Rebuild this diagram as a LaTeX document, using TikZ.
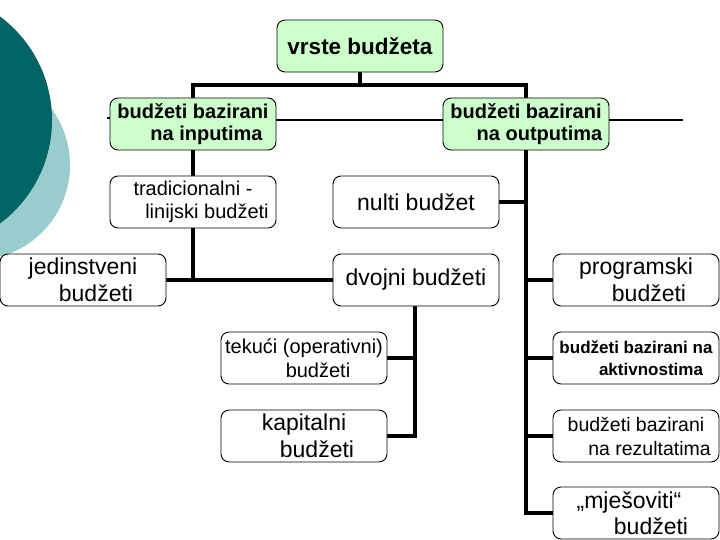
\documentclass[tikz,border=0pt]{standalone}
\usepackage{fontspec}
\setmainfont{Liberation Sans}
\definecolor{boxgreen}{RGB}{204,255,204}
\definecolor{darkteal}{RGB}{0,100,100}
\definecolor{lightteal}{RGB}{153,204,204}
\pgfdeclarelayer{bg}
\pgfdeclarelayer{lines}
\pgfsetlayers{bg,lines,main}
\begin{document}
\begin{tikzpicture}[x=1pt,y=-1pt,
  box/.style={draw=black, line width=0.9pt, rounded corners=8pt, minimum width=166pt,
    minimum height=52pt, inner sep=0pt, align=center, fill=white},
  gbox/.style={box, fill=boxgreen},
  fbold/.style={font=\fontsize{20}{22}\selectfont\bfseries},
  fbig/.style={font=\fontsize{23}{26.5}\selectfont},
  fmid/.style={font=\fontsize{20}{23.5}\selectfont},
  conn/.style={line width=3.2pt, line join=miter},
  thinconn/.style={line width=2.6pt}]
\useasboundingbox (0,0) rectangle (720,540);
% background circles
\begin{pgfonlayer}{bg}
  \clip (0,0) rectangle (720,540);
  \fill[lightteal] (-25,165) circle [radius=95pt];
  \fill[darkteal] (-77,120) circle [radius=129pt];
\end{pgfonlayer}
% nodes
\node[gbox, font=\fontsize{22.5}{26}\selectfont\bfseries] (top) at (360,46) {vrste budžeta};
\node[gbox, fbold] (inp) at (193,124) {budžeti bazirani\\\hspace*{27pt}na inputima};
\node[gbox, fbold] (outp) at (526,124) {budžeti bazirani\\\hspace*{27pt}na outputima};
\node[box, fmid] (trad) at (193,202) {tradicionalni -\\\hspace*{28pt}linijski budžeti};
\node[box, fbig] (nulti) at (416,202) {nulti budžet};
\node[box, fbig] (jed) at (83,280) {jedinstveni\\\hspace*{26pt}budžeti};
\node[box, fbig] (dvo) at (416,280) {dvojni budžeti};
\node[box, fbig] (prog) at (636,280) {programski\\\hspace*{26pt}budžeti};
\node[box, fmid] (tek) at (304,358) {tekući (operativni)\\\hspace*{28pt}budžeti};
\node[box, fbig] (kap) at (304,436) {kapitalni\\\hspace*{26pt}budžeti};
\node[box, font=\fontsize{17}{22}\selectfont\bfseries] (akt) at (636,358) {budžeti bazirani na\\\hspace*{30pt}aktivnostima};
\node[box, font=\fontsize{19.5}{24}\selectfont] (rez) at (636,436) {budžeti bazirani\\\hspace*{27pt}na rezultatima};
\node[box, fbig] (mje) at (636,513) {„mješoviti“\hspace*{14pt}\\\hspace*{30pt}budžeti};
% connectors
\coordinate (j1) at (360,85);
\coordinate (dv) at ([xshift=-1pt]dvo.south);
\begin{pgfonlayer}{lines}
  \draw[conn] (top.south) -- (j1);
  \draw[conn] (inp.north) |- (j1) -| (outp.north);
  \draw[thinconn] ([yshift=4pt]inp.east) -- ([yshift=4pt]outp.west);
  \draw[thinconn] ([yshift=4pt]outp.east) -- ++(74,0);
  \draw[thinconn] ([yshift=6pt]inp.west) -- ++(-3,0);
  \draw[conn] (inp.south) -- (inp.south |- jed.east);
  \draw[conn] (jed.east) -- (dvo.west);
  \draw[conn] (outp.south) |- (mje.west);
  \draw[conn] (nulti.east) -- (nulti.east -| outp.south);
  \draw[conn] (prog.west) -- (prog.west -| outp.south);
  \draw[conn] (akt.west) -- (akt.west -| outp.south);
  \draw[conn] (rez.west) -- (rez.west -| outp.south);
  \draw[conn] (dv) |- (kap.east);
  \draw[conn] (tek.east) -- (tek.east -| dv);
\end{pgfonlayer}
\end{tikzpicture}
\end{document}
